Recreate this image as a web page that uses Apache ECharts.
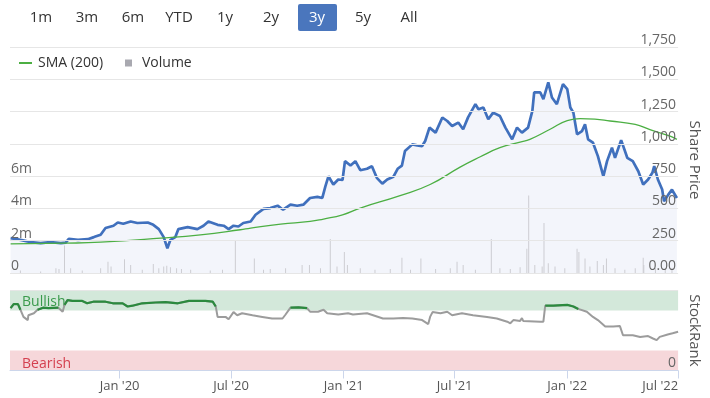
<!DOCTYPE html>
<html>
<head>
<meta charset="utf-8">
<script src="https://cdn.jsdelivr.net/npm/echarts@6/dist/echarts.min.js"></script>
<style>
html, body { margin: 0; padding: 0; background: #fff; }
#chart { width: 710px; height: 398px; }
</style>
</head>
<body>
<div id="chart"></div>
<script>
// range selector
const rangeButtons = ['1m', '3m', '6m', 'YTD', '1y', '2y', '3y', '5y', 'All']
const selectedRange = '3y'

// share price
const priceDates = [
  '2019-07-07', '2019-07-23', '2019-08-09', '2019-08-25', '2019-09-10', '2019-09-27', '2019-10-05', '2019-10-10',
  '2019-10-25', '2019-11-10', '2019-11-20', '2019-12-01', '2019-12-09', '2019-12-22', '2019-12-29', '2020-01-07',
  '2020-01-19', '2020-01-30', '2020-02-16', '2020-02-25', '2020-03-05', '2020-03-13', '2020-03-19', '2020-03-24',
  '2020-04-01', '2020-04-06', '2020-04-21', '2020-05-07', '2020-05-17', '2020-05-25', '2020-06-09', '2020-06-19',
  '2020-06-27', '2020-07-05', '2020-07-13', '2020-07-21', '2020-08-02', '2020-08-10', '2020-08-23', '2020-09-03',
  '2020-09-15', '2020-09-24', '2020-10-06', '2020-10-17', '2020-10-27', '2020-11-07', '2020-11-19', '2020-11-27',
  '2020-12-02', '2020-12-07', '2020-12-15', '2020-12-23', '2020-12-30', '2021-01-03', '2021-01-12', '2021-01-20',
  '2021-01-28', '2021-02-08', '2021-02-16', '2021-02-24', '2021-03-05', '2021-03-13', '2021-03-23', '2021-03-30',
  '2021-04-06', '2021-04-11', '2021-04-23', '2021-05-01', '2021-05-09', '2021-05-14', '2021-05-21', '2021-05-31',
  '2021-06-11', '2021-06-19', '2021-06-27', '2021-07-07', '2021-07-15', '2021-07-23', '2021-08-04', '2021-08-09',
  '2021-08-17', '2021-08-25', '2021-09-02', '2021-09-13', '2021-09-22', '2021-10-03', '2021-10-11', '2021-10-19',
  '2021-10-29', '2021-11-05', '2021-11-08', '2021-11-18', '2021-11-23', '2021-12-01', '2021-12-07', '2021-12-15',
  '2021-12-25', '2022-01-01', '2022-01-06', '2022-01-11', '2022-01-17', '2022-01-25', '2022-01-30', '2022-02-04',
  '2022-02-12', '2022-02-20', '2022-03-01', '2022-03-07', '2022-03-15', '2022-03-20', '2022-03-30', '2022-04-09',
  '2022-04-18', '2022-04-27', '2022-05-05', '2022-05-13', '2022-05-20', '2022-05-23', '2022-05-29', '2022-06-05',
  '2022-06-08', '2022-06-15', '2022-06-21', '2022-06-29'
]
const priceValues = [
  270, 257, 239, 231, 239, 231, 235, 264,
  257, 262, 278, 296, 348, 366, 391, 381,
  399, 387, 391, 373, 340, 278, 192, 257,
  278, 340, 355, 340, 366, 399, 373, 366,
  340, 366, 360, 387, 399, 451, 496, 503,
  521, 490, 529, 521, 529, 581, 589, 581,
  671, 749, 685, 724, 720, 866, 832, 866,
  796, 807, 827, 737, 692, 724, 745, 807,
  832, 944, 996, 988, 983, 1022, 1126, 1087,
  1204, 1177, 1138, 1165, 1113, 1205, 1307, 1268,
  1281, 1190, 1242, 1216, 1126, 1035, 1126, 1087,
  1126, 1255, 1398, 1398, 1346, 1476, 1359, 1307,
  1463, 1424, 1281, 1242, 1074, 1099, 1151, 1035,
  1009, 905, 749, 866, 970, 892, 1029, 892,
  866, 788, 685, 724, 776, 827, 724, 646,
  555, 607, 646, 581
]

// SMA (200)
const smaDates = [
  '2019-07-07', '2019-10-05', '2019-12-01', '2020-03-08', '2020-05-12', '2020-07-16', '2020-08-02', '2020-09-20',
  '2020-11-07', '2020-11-29', '2020-12-30', '2021-01-28', '2021-04-03', '2021-05-22', '2021-07-10', '2021-08-12',
  '2021-09-13', '2021-10-16', '2021-11-01', '2021-12-04', '2022-01-01', '2022-01-22', '2022-02-15', '2022-03-12',
  '2022-04-22', '2022-05-16', '2022-06-18', '2022-06-29'
]
const smaValues = [
  225, 231, 239, 270, 296, 335, 348, 379,
  399, 418, 451, 503, 599, 685, 820, 900,
  970, 1014, 1035, 1113, 1180, 1195, 1192, 1177,
  1150, 1110, 1060, 1035
]

// volume, millions
const volumeDates = [
  '2019-07-23', '2019-08-25', '2019-09-19', '2019-09-24', '2019-10-03', '2019-10-13', '2019-11-01', '2019-12-01',
  '2019-12-13', '2019-12-18', '2020-01-09', '2020-01-19', '2020-02-07', '2020-02-25', '2020-03-05', '2020-03-13',
  '2020-03-18', '2020-03-24', '2020-04-03', '2020-04-11', '2020-04-26', '2020-05-28', '2020-06-17', '2020-07-08',
  '2020-08-08', '2020-08-23', '2020-09-03', '2020-09-28', '2020-10-25', '2020-11-06', '2020-11-24', '2020-12-10',
  '2020-12-21', '2021-01-02', '2021-01-07', '2021-01-28', '2021-02-21', '2021-03-18', '2021-04-06', '2021-04-20',
  '2021-05-07', '2021-05-31', '2021-06-24', '2021-07-05', '2021-07-15', '2021-08-04', '2021-08-30', '2021-09-13',
  '2021-09-30', '2021-10-16', '2021-10-27', '2021-10-30', '2021-11-09', '2021-11-21', '2021-11-24', '2021-12-01',
  '2021-12-12', '2021-12-28', '2022-01-17', '2022-01-20', '2022-01-30', '2022-02-07', '2022-02-19', '2022-03-01',
  '2022-03-06', '2022-03-20', '2022-04-05', '2022-04-22', '2022-05-05', '2022-05-06', '2022-05-25', '2022-06-10',
  '2022-06-21'
]
const volumeValues = [
  0.15, 0.1, 0.3, 0.25, 1.7, 0.3, 0.15, 0.3,
  0.7, 0.4, 0.85, 0.5, 0.2, 0.55, 0.3, 0.4,
  0.45, 0.35, 0.3, 0.25, 0.2, 0.15, 0.2, 2.0,
  0.9, 0.2, 0.25, 0.3, 0.5, 0.5, 0.3, 2.1,
  0.4, 1.3, 0.5, 0.3, 0.2, 0.25, 0.95, 0.2,
  0.9, 0.25, 0.3, 0.7, 0.5, 0.2, 2.1, 0.3,
  0.25, 0.35, 1.5, 4.8, 0.5, 0.4, 3.1, 0.6,
  0.4, 0.3, 1.5, 1.3, 0.9, 0.4, 0.75, 0.5,
  0.9, 0.3, 0.2, 0.3, 0.95, 0.5, 0.3, 0.25,
  0.3
]

// StockRank
const rankDates = [
  '2019-07-07', '2019-07-12', '2019-07-19', '2019-07-23', '2019-07-28', '2019-08-04', '2019-08-05', '2019-08-14',
  '2019-08-20', '2019-08-29', '2019-09-07', '2019-09-23', '2019-09-30', '2019-10-03', '2019-10-08', '2019-10-16',
  '2019-11-01', '2019-11-09', '2019-11-19', '2019-12-09', '2019-12-21', '2020-01-06', '2020-01-14', '2020-01-22',
  '2020-02-07', '2020-02-29', '2020-03-16', '2020-04-05', '2020-04-06', '2020-04-23', '2020-05-20', '2020-06-01',
  '2020-06-06', '2020-06-09', '2020-06-22', '2020-06-27', '2020-07-05', '2020-07-11', '2020-07-19', '2020-08-05',
  '2020-08-21', '2020-09-06', '2020-09-23', '2020-09-28', '2020-10-06', '2020-10-19', '2020-11-02', '2020-11-07',
  '2020-11-20', '2020-11-29', '2020-12-05', '2020-12-23', '2021-01-08', '2021-01-16', '2021-02-08', '2021-02-18',
  '2021-03-06', '2021-03-23', '2021-04-08', '2021-04-23', '2021-05-09', '2021-05-19', '2021-05-22', '2021-05-26',
  '2021-06-08', '2021-06-19', '2021-06-27', '2021-07-13', '2021-07-31', '2021-08-23', '2021-09-08', '2021-09-25',
  '2021-09-30', '2021-10-05', '2021-10-16', '2021-10-19', '2021-10-21', '2021-11-18', '2021-11-23', '2021-11-26',
  '2021-12-09', '2022-01-01', '2022-01-11', '2022-01-19', '2022-02-02', '2022-02-12', '2022-02-20', '2022-03-04',
  '2022-03-17', '2022-03-28', '2022-04-02', '2022-04-18', '2022-04-30', '2022-05-13', '2022-05-21', '2022-05-27',
  '2022-06-01', '2022-06-14', '2022-06-22', '2022-07-01'
]
const rankValues = [
  78, 83, 83, 76, 67, 63, 69, 71.5,
  76, 78.5, 78, 78.5, 73.5, 82, 88, 87,
  87, 84, 86, 86, 84, 84, 80, 81,
  84, 85, 85.5, 84, 85.5, 87, 87, 86,
  80, 67, 67, 64, 73, 69, 71.5, 69,
  67, 65, 65, 70, 78.5, 79, 78, 73.5,
  73.5, 76, 71.5, 70, 71.5, 70, 71.5, 69,
  65, 65, 65.5, 65, 63, 58, 67, 73,
  71.5, 73.5, 69, 71.5, 69, 67, 65, 61,
  59, 63, 62, 65.5, 62, 61, 61, 81,
  81, 82, 80, 77, 73.5, 67, 63, 55,
  55, 55.5, 44, 44, 42, 43, 40, 38,
  42, 45, 46.5, 48.5
]
const bullishLevel = 75

const xTickDates = ['2020-01-01', '2020-07-01', '2021-01-01', '2021-07-01', '2022-01-01', '2022-07-01']
const xMin = '2019-07-06'
const xMax = '2022-07-01'

const ts = s => Date.parse(s + 'T00:00:00Z')
const zip = (d, v) => d.map((x, i) => [ts(x), v[i]])
const monthNames = ['Jan', 'Feb', 'Mar', 'Apr', 'May', 'Jun', 'Jul', 'Aug', 'Sep', 'Oct', 'Nov', 'Dec']
const fontFamily = '"Open Sans", "Noto Sans", sans-serif'
const tickValues = xTickDates.map(ts)

// bullish part of the rank line: only points inside the green band
const rankBullish = rankDates.map((d, i) => [ts(d), rankValues[i] >= bullishLevel ? rankValues[i] : '-'])

const chart = echarts.init(document.getElementById('chart'))

const buttonGraphics = [{
  type: 'rect',
  shape: { x: 298, y: 4, width: 39, height: 27, r: 2 },
  style: { fill: '#4a76bd' }
}]
rangeButtons.forEach((t, i) => {
  buttonGraphics.push({
    type: 'text',
    x: 41 + i * 46,
    y: 18,
    z: 10,
    style: {
      text: t,
      fill: t === selectedRange ? '#ffffff' : '#333333',
      font: '15px ' + fontFamily,
      align: 'center',
      verticalAlign: 'middle'
    }
  })
})

chart.setOption({
  animation: false,
  textStyle: { fontFamily: fontFamily },
  graphic: buttonGraphics,
  legend: [
    {
      data: [{ name: 'SMA (200)', icon: 'rect', itemStyle: { color: '#4caf43' } }],
      left: 19, top: 56, padding: 0,
      itemWidth: 13, itemHeight: 2,
      selectedMode: false,
      textStyle: { fontSize: 14, color: '#333', padding: [0, 0, 0, 1] }
    },
    {
      data: [{ name: 'Volume', icon: 'rect', itemStyle: { color: '#a9a9b0' } }],
      left: 125, top: 56, padding: 0,
      itemWidth: 7, itemHeight: 7,
      selectedMode: false,
      textStyle: { fontSize: 14, color: '#333', padding: [0, 0, 0, 5] }
    }
  ],
  grid: [
    { left: 10, right: 31, top: 47, height: 226 },
    { left: 10, right: 31, top: 290.5, height: 80 }
  ],
  xAxis: [
    { type: 'value', gridIndex: 0, min: ts(xMin), max: ts(xMax), show: false },
    {
      type: 'value', gridIndex: 1, min: ts(xMin), max: ts(xMax),
      z: 6,
      axisLine: { lineStyle: { color: '#ccd6eb' } },
      axisTick: { show: true, customValues: tickValues, length: 8, lineStyle: { color: '#ccd6eb' } },
      axisLabel: {
        customValues: tickValues,
        color: '#555', fontSize: 13, margin: 9,
        alignMaxLabel: 'right',
        formatter: v => {
          const d = new Date(v)
          return monthNames[d.getUTCMonth()] + " '" + String(d.getUTCFullYear()).slice(2)
        }
      },
      splitLine: { show: false }
    }
  ],
  yAxis: [
    {
      type: 'value', gridIndex: 0, position: 'right',
      min: 0, max: 1750, interval: 250,
      z: 6,
      name: 'Share Price', nameLocation: 'middle', nameRotate: -90, nameGap: 8,
      nameTextStyle: { color: '#555', fontSize: 15 },
      axisLine: { show: false }, axisTick: { show: false },
      axisLabel: {
        inside: true, margin: 2, verticalAlign: 'bottom', color: '#666', fontSize: 14,
        formatter: v => v === 0 ? '0.00' : v.toLocaleString('en-US')
      },
      splitLine: { lineStyle: { color: '#e6e6e6' } }
    },
    {
      type: 'value', gridIndex: 0, position: 'left',
      min: 0, max: 14, interval: 2,
      z: 6,
      axisLine: { show: false }, axisTick: { show: false },
      axisLabel: {
        inside: true, margin: 1, verticalAlign: 'bottom', color: '#666', fontSize: 14,
        formatter: v => v > 6 ? '' : (v === 0 ? '0' : v + 'm')
      },
      splitLine: { show: false }
    },
    {
      type: 'value', gridIndex: 1, position: 'right',
      min: 0, max: 100, interval: 100,
      z: 6,
      name: 'StockRank', nameLocation: 'middle', nameRotate: -90, nameGap: 8,
      nameTextStyle: { color: '#555', fontSize: 15 },
      axisLine: { show: false }, axisTick: { show: false },
      axisLabel: {
        inside: true, margin: 2, verticalAlign: 'bottom', color: '#666', fontSize: 14,
        formatter: v => v === 0 ? '0' : ''
      },
      splitLine: { lineStyle: { color: '#e6e6e6' } }
    }
  ],
  series: [
    {
      name: 'Share Price',
      type: 'line',
      xAxisIndex: 0, yAxisIndex: 0,
      data: zip(priceDates, priceValues),
      symbol: 'none',
      lineStyle: { color: '#4070bd', width: 2.7 },
      itemStyle: { color: '#4070bd' },
      areaStyle: { color: '#f3f5fb', opacity: 1 },
      z: 2
    },
    {
      name: 'Volume',
      type: 'bar',
      xAxisIndex: 0, yAxisIndex: 1,
      data: zip(volumeDates, volumeValues),
      barWidth: 1,
      itemStyle: { color: '#cdcdd2' },
      z: 3
    },
    {
      name: 'SMA (200)',
      type: 'line',
      xAxisIndex: 0, yAxisIndex: 0,
      data: zip(smaDates, smaValues),
      smooth: true,
      symbol: 'none',
      lineStyle: { color: '#4caf43', width: 1.3 },
      itemStyle: { color: '#4caf43' },
      z: 4
    },
    {
      name: 'StockRank',
      type: 'line',
      xAxisIndex: 1, yAxisIndex: 2,
      data: zip(rankDates, rankValues),
      symbol: 'none',
      lineStyle: { color: '#9c9c9c', width: 2 },
      itemStyle: { color: '#9c9c9c' },
      z: 4,
      markArea: {
        silent: true,
        data: [
          [
            {
              name: 'Bullish', yAxis: 75,
              itemStyle: { color: '#d3e8da' },
              label: { show: true, position: 'insideLeft', distance: 12, offset: [0, 2], color: '#3a9a4c', fontSize: 14 }
            },
            { yAxis: 100 }
          ],
          [
            {
              name: 'Bearish', yAxis: 0,
              itemStyle: { color: '#f6d7da' },
              label: { show: true, position: 'insideLeft', distance: 12, offset: [0, 4], color: '#d4404f', fontSize: 14 }
            },
            { yAxis: 25 }
          ]
        ]
      }
    },
    {
      name: 'StockRank bullish',
      type: 'line',
      xAxisIndex: 1, yAxisIndex: 2,
      data: rankBullish,
      symbol: 'none',
      connectNulls: false,
      lineStyle: { color: '#2b8a3e', width: 2.2 },
      itemStyle: { color: '#2b8a3e' },
      z: 5
    }
  ]
})
</script>
</body>
</html>
